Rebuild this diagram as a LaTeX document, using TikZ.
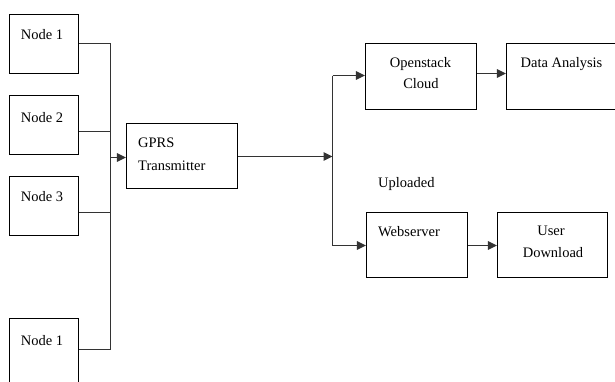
\documentclass[tikz,border=0pt]{standalone}
\usepackage{fontspec}
\setmainfont{Liberation Serif}
\usetikzlibrary{arrows.meta}
\begin{document}
\begin{tikzpicture}[x=1pt,y=-1pt,
  box/.style={draw, line width=1.1pt, inner sep=0pt, rectangle},
  txt/.style={anchor=base, inner sep=0pt, font=\fontsize{14.5}{17}\selectfont},
  txtl/.style={anchor=base west, inner sep=0pt, font=\fontsize{14.5}{17}\selectfont},
  conn/.style={line width=1.2pt, draw=black!80},
  arr/.style={conn, -{Triangle[length=9pt,width=8.5pt]}}]
\useasboundingbox (0,0) rectangle (615,381);
\fill[white] (0,0) rectangle (615,381);
\clip (0,0) rectangle (615,381);
% boxes
\node[box, minimum width=69pt, minimum height=59pt] (n1) at (44,44) {};
\node[box, minimum width=69pt, minimum height=59pt] (n2) at (44,125) {};
\node[box, minimum width=69pt, minimum height=59pt] (n3) at (44,206) {};
\node[box, minimum width=69pt, minimum height=74pt] (n4) at (44,355.5) {};
\node[box, minimum width=111pt, minimum height=65pt] (gprs) at (182,156) {};
\node[box, minimum width=111pt, minimum height=66pt] (open) at (421,76.5) {};
\node[box, minimum width=116pt, minimum height=66pt] (data) at (564.5,76.5) {};
\node[box, minimum width=101pt, minimum height=65pt] (web) at (417,245) {};
\node[box, minimum width=110pt, minimum height=65pt] (user) at (552.5,245) {};
% texts
\node[txt] (t1) at (42,39) {Node 1};
\node[txt] (t2) at (42,122) {Node 2};
\node[txt] (t3) at (42,201) {Node 3};
\node[txt] (t4) at (42,345) {Node 1};
\node[txtl] (tg1) at (138,147) {GPRS};
\node[txtl] (tg2) at (138,170) {Transmitter};
\node[txt] (to1) at (420.5,67) {Openstack};
\node[txt] (to2) at (421,88) {Cloud};
\node[txt] (td) at (561.5,67) {Data Analysis};
\node[txtl] (tu) at (378,187) {Uploaded};
\node[txtl] (tw) at (378,236) {Webserver};
\node[txt] (tus1) at (551,235) {User};
\node[txt] (tus2) at (553,257) {Download};
% bus coordinates
\coordinate (b1) at (110.5,43.5);
\coordinate (b2) at (110.5,131.5);
\coordinate (b3) at (110.5,212.5);
\coordinate (b4) at (110.5,349.5);
\coordinate (bm) at (110.5,157.5);
\coordinate (r0) at (332.5,156.5);
\coordinate (rt) at (332.5,75.5);
\coordinate (rb) at (332.5,245.5);
% connectors
\draw[conn] (n1.east |- b1) -- (b1);
\draw[conn] (n2.east |- b2) -- (b2);
\draw[conn] (n3.east |- b3) -- (b3);
\draw[conn] (n4.east |- b4) -- (b4);
\draw[conn] (b1) -- (b4);
\draw[arr] (bm) -- (gprs.west |- bm);
\draw[arr] (gprs.east |- r0) -- (r0);
\draw[conn] (rt) -- (rb);
\draw[arr] (rt) -- (open.west |- rt);
\draw[arr] (rb) -- (web.west |- rb);
\draw[arr] (open.east |- 0,73.5) -- (data.west |- 0,73.5);
\draw[arr] (web.east |- rb) -- (user.west |- rb);
\end{tikzpicture}
\end{document}
